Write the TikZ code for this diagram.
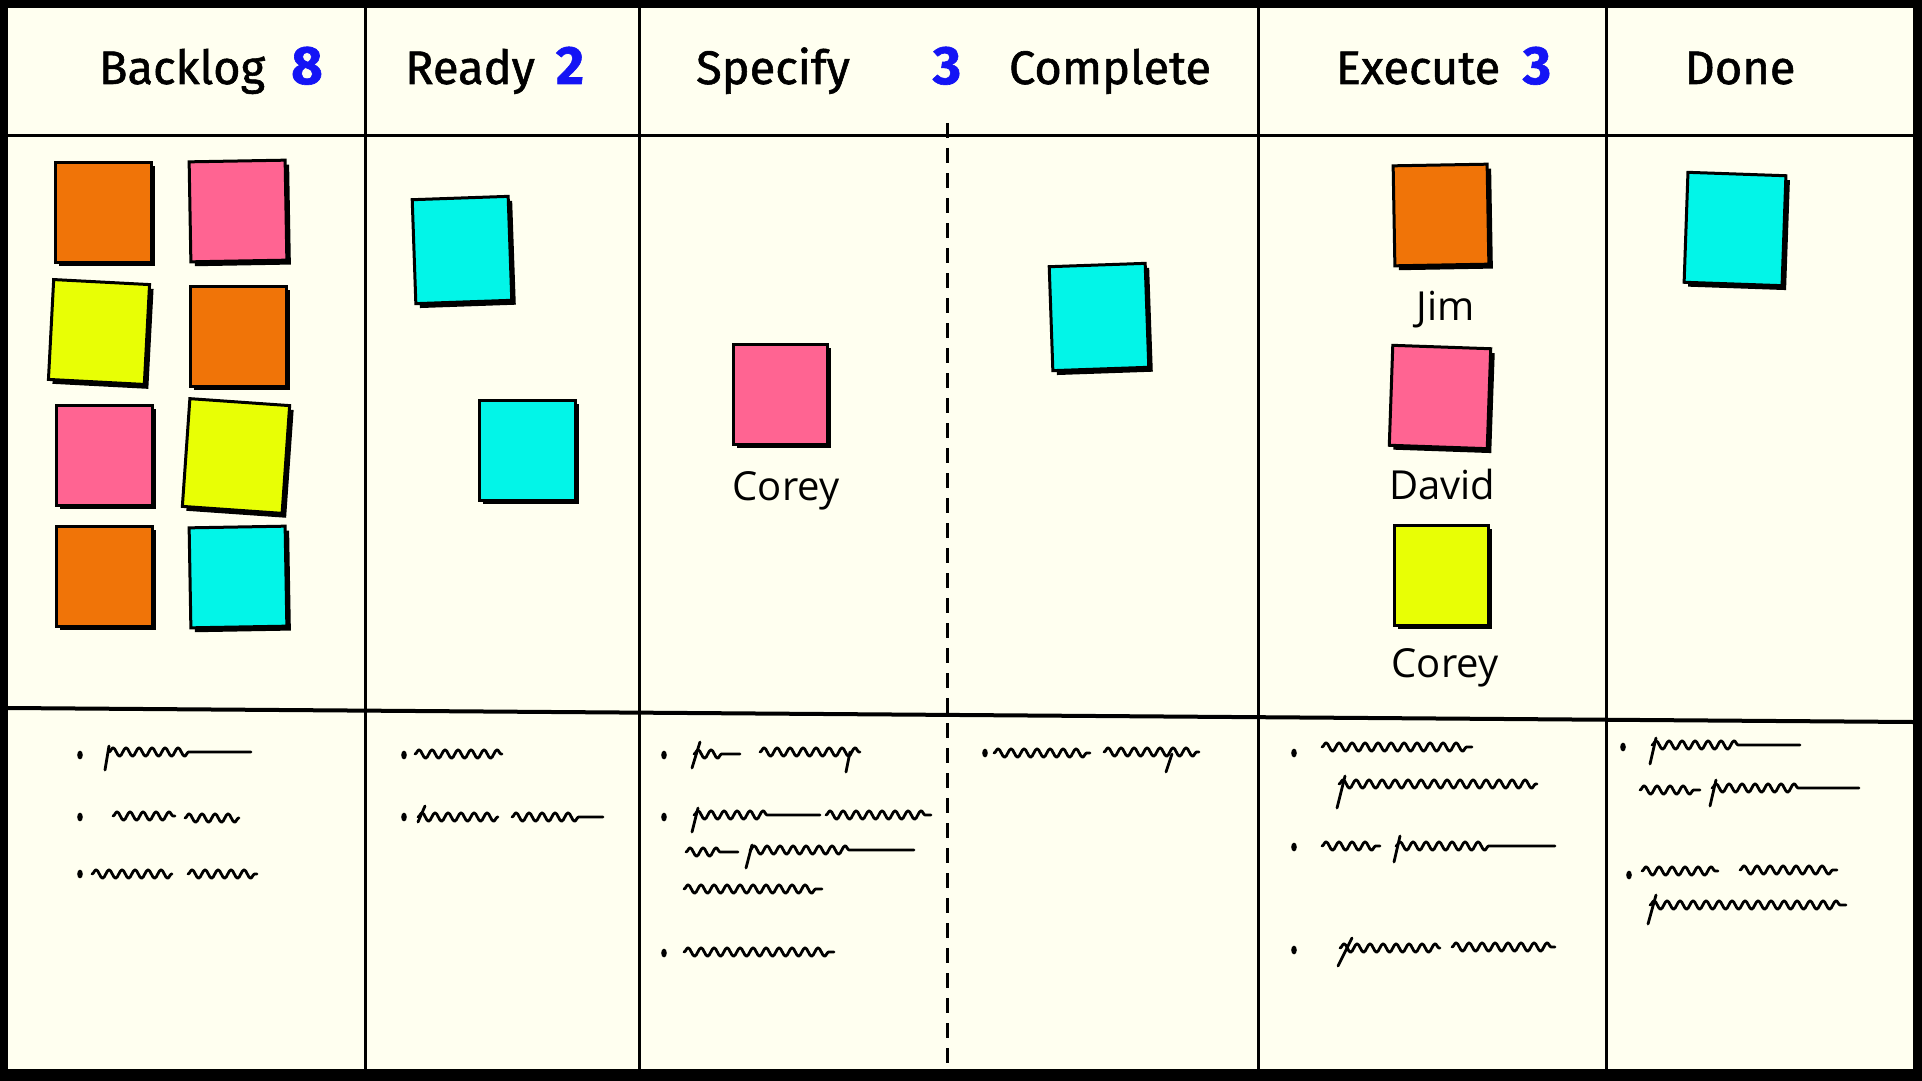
\documentclass[tikz,border=0pt]{standalone}
\usepackage{fontspec}
\setmainfont{Fira Sans}
\newfontfamily\headfont{Fira Sans}[FakeBold=1.2]
\newfontfamily\handfont{Open Sans}
\usetikzlibrary{positioning,shadows,shapes.geometric,decorations.pathmorphing}

\definecolor{board}{HTML}{FFFFF0}
\definecolor{noteorange}{HTML}{F07408}
\definecolor{notepink}{HTML}{FF6492}
\definecolor{noteyellow}{HTML}{E8FF05}
\definecolor{notecyan}{HTML}{02F5E8}
\definecolor{wipblue}{HTML}{1414F5}

\tikzset{
  note/.style={rectangle,draw=black,line width=1.5pt,minimum width=48pt,minimum height=50pt,inner sep=0pt,
    drop shadow={shadow xshift=2pt,shadow yshift=-2.2pt,fill=black,opacity=1}},
  title/.style={anchor=base,font=\headfont\fontsize{23.5}{27}\selectfont},
  wip/.style={anchor=base,text=wipblue,font=\headfont\bfseries\fontsize{27}{30}\selectfont},
  owner/.style={font=\handfont\fontsize{20}{23}\selectfont,inner sep=1pt},
  bullet/.style={ellipse,fill=black,minimum width=2.8pt,minimum height=4.4pt,inner sep=0pt},
  scrawl/.style={line width=1.4pt,line cap=round,line join=round,decorate,
    decoration={snake,segment length=6.5pt,amplitude=2.1pt}},
  pen/.style={line width=1.4pt,line cap=round},
  rule/.style={line width=1.5pt},
}

\begin{document}
\begin{tikzpicture}[x=0.5pt,y=-0.5pt]
  \useasboundingbox (0,0) rectangle (1922,1081);
  \fill[black] (0,0) rectangle (1922,1081);
  \fill[board] (8,8) rectangle (1913,1069);

  % board lines
  \draw[rule] (8,136) -- (1913,136);
  \draw[rule,line width=2pt] (8,708) -- (1913,722);
  \foreach \x in {365,639,1258,1606}
    \draw[rule] (\x,8) -- (\x,1069);
  \draw[rule,dash pattern=on 7.5pt off 5pt] (947,123) -- (947,1069);

  % column titles
  \node[title] (hbacklog) at (182,84) {Backlog};
  \node[wip] (wbacklog) at (307,84) {8};
  \node[title] (hready) at (470,84) {Ready};
  \node[wip] (wready) at (570,84) {2};
  \node[title] (hspecify) at (773,84) {Specify};
  \node[wip] (wspecify) at (947,84) {3};
  \node[title] (hcomplete) at (1110,84) {Complete};
  \node[title] (hexecute) at (1418,84) {Execute};
  \node[wip] (wexecute) at (1537,84) {3};
  \node[title] (hdone) at (1740,84) {Done};

  % backlog
  \node[note,fill=noteorange] (bl1) at (103,212) {};
  \node[note,fill=notepink,rotate=1] (bl2) at (238,211) {};
  \node[note,fill=noteyellow,rotate=-3] (bl3) at (99,332) {};
  \node[note,fill=noteorange] (bl4) at (238,336) {};
  \node[note,fill=notepink] (bl5) at (104,455) {};
  \node[note,fill=noteyellow,rotate=-4,minimum width=50pt,minimum height=54pt] (bl6) at (236,456) {};
  \node[note,fill=noteorange] (bl7) at (104,576) {};
  \node[note,fill=notecyan,rotate=1] (bl8) at (238,577) {};

  % ready
  \node[note,fill=notecyan,rotate=2,minimum height=52pt] (rd1) at (462,250) {};
  \node[note,fill=notecyan] (rd2) at (527,450) {};

  % specify / complete
  \node[note,fill=notepink,minimum width=47pt] (sp1) at (780,394) {};
  \node[owner,below=12pt of sp1,xshift=3pt] (own1) {Corey};
  \node[note,fill=notecyan,rotate=2,minimum height=52pt] (cp1) at (1099,317) {};

  % execute
  \node[note,fill=noteorange,rotate=1,minimum width=47pt] (ex1) at (1441,215) {};
  \node[owner,below=11pt of ex1,xshift=2pt] (own2) {Jim};
  \node[note,fill=notepink,rotate=-2,minimum width=49pt] (ex2) at (1440,397) {};
  \node[owner,below=9pt of ex2,xshift=2pt] (own3) {David};
  \node[note,fill=noteyellow,minimum width=47pt] (ex3) at (1441,575) {};
  \node[owner,below=10pt of ex3,xshift=2pt] (own4) {Corey};

  % done
  \node[note,fill=notecyan,rotate=-2,minimum width=49pt,minimum height=55pt] (dn1) at (1735,229) {};

  % notes under the line
  \node[bullet] (bb1) at (80,755) {};
  \node[bullet] (bb2) at (80,817) {};
  \node[bullet] (bb3) at (80,874) {};
  \draw[pen] (109,746) -- (105,770);
  \draw[scrawl,decoration={post length=30pt}] (109,752) -- (251,752);
  \draw[scrawl] (113,816) -- (175,816);
  \draw[scrawl] (185,818) -- (239,818);
  \draw[scrawl] (92,874) -- (172,874);
  \draw[scrawl] (188,874) -- (257,874);

  \node[bullet] (rb1) at (404,755) {};
  \node[bullet] (rb2) at (404,817) {};
  \draw[scrawl] (415,754) -- (502,754);
  \draw[pen] (425,806) -- (418,822);
  \draw[scrawl] (418,817) -- (498,817);
  \draw[scrawl,decoration={post length=12pt}] (512,817) -- (603,817);

  \node[bullet] (sb1) at (664,755) {};
  \node[bullet] (sb2) at (664,817) {};
  \node[bullet] (sb3) at (664,953) {};
  \draw[pen] (700,742) -- (692,768);
  \draw[scrawl,decoration={post length=8pt}] (694,754) -- (740,754);
  \draw[scrawl] (760,752) -- (860,752);
  \draw[pen] (850,752) -- (846,772);
  \draw[pen] (698,808) -- (692,832);
  \draw[scrawl,decoration={post length=25pt}] (694,815) -- (820,815);
  \draw[scrawl] (826,815) -- (931,815);
  \draw[scrawl,decoration={post length=8pt}] (686,852) -- (738,852);
  \draw[pen] (752,845) -- (746,868);
  \draw[scrawl,decoration={post length=30pt}] (750,850) -- (914,850);
  \draw[scrawl] (684,889) -- (822,889);
  \draw[scrawl] (684,952) -- (834,952);

  \node[bullet] (cb1) at (985,753) {};
  \draw[scrawl] (994,753) -- (1090,753);
  \draw[scrawl] (1104,752) -- (1199,752);
  \draw[pen] (1172,754) -- (1166,772);

  \node[bullet] (eb1) at (1294,753) {};
  \node[bullet] (eb2) at (1294,847) {};
  \node[bullet] (eb3) at (1294,950) {};
  \draw[scrawl] (1322,747) -- (1472,747);
  \draw[pen] (1345,776) -- (1337,808);
  \draw[scrawl] (1339,784) -- (1537,784);
  \draw[scrawl] (1322,846) -- (1380,846);
  \draw[pen] (1400,836) -- (1394,862);
  \draw[scrawl,decoration={post length=30pt}] (1396,846) -- (1555,846);
  \draw[pen] (1352,938) -- (1338,966);
  \draw[scrawl] (1340,948) -- (1440,948);
  \draw[scrawl] (1452,947) -- (1555,947);

  \node[bullet] (db1) at (1623,747) {};
  \node[bullet] (db2) at (1629,875) {};
  \draw[pen] (1656,738) -- (1650,764);
  \draw[scrawl,decoration={post length=30pt}] (1652,745) -- (1800,745);
  \draw[scrawl] (1640,790) -- (1700,790);
  \draw[pen] (1716,780) -- (1710,806);
  \draw[scrawl,decoration={post length=30pt}] (1712,788) -- (1859,788);
  \draw[scrawl] (1642,871) -- (1718,871);
  \draw[scrawl] (1740,870) -- (1837,870);
  \draw[pen] (1656,895) -- (1648,924);
  \draw[scrawl] (1650,905) -- (1846,905);
\end{tikzpicture}
\end{document}
